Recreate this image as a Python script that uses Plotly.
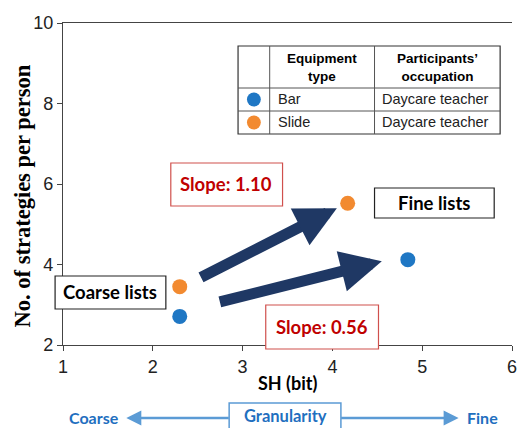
import plotly.graph_objects as go

# ---- data ----
series_names = ["Bar", "Slide"]
occupation = ["Daycare teacher", "Daycare teacher"]
bar_sh = [2.30, 4.84]
bar_strat = [2.71, 4.12]
slide_sh = [2.30, 4.17]
slide_strat = [3.45, 5.52]
slope_labels = ["Slope: 1.10", "Slope: 0.56"]
x_ticks = [1, 2, 3, 4, 5, 6]
y_ticks = [2, 4, 6, 8, 10]

BLUE = "#1F77C4"
ORANGE = "#F28A30"
NAVY = "#1F3864"
RED = "#C00000"
LBLUE = "#5B9BD5"
TBLUE = "#1F6FBF"

W, H = 523, 428
L, R, T, B = 63, 517, 23, 345
TICKFONT = "Liberation Sans Narrow, Liberation Sans, sans-serif"


def px(x):
    return (x - L) / (R - L)


def py(y):
    return (B - y) / (B - T)


fig = go.Figure()
fig.add_trace(go.Scatter(x=bar_sh, y=bar_strat, mode="markers", name=series_names[0],
                         marker=dict(color=BLUE, size=15), cliponaxis=False))
fig.add_trace(go.Scatter(x=slide_sh, y=slide_strat, mode="markers", name=series_names[1],
                         marker=dict(color=ORANGE, size=15), cliponaxis=False))

shapes = []
annotations = []

# thick arrows (in data coordinates)
for (x0, y0, x1, y1) in [(2.52, 3.66, 4.05, 5.40), (2.73, 3.06, 4.55, 4.08)]:
    annotations.append(dict(x=x1, y=y1, ax=x0, ay=y0, xref="x", yref="y", axref="x", ayref="y",
                            showarrow=True, arrowhead=2, arrowsize=0.75, arrowwidth=11,
                            arrowcolor=NAVY, text=""))


def box(x0, y0, x1, y1, color, width=1.2):
    shapes.append(dict(type="rect", xref="paper", yref="paper", x0=px(x0), x1=px(x1),
                       y0=py(y1), y1=py(y0), line=dict(color=color, width=width),
                       fillcolor="white", layer="above"))


def text(x, y, s, size, color="black", family="Lato", bold=False, xanchor="center", angle=0):
    if bold:
        s = "<b>" + s + "</b>"
    annotations.append(dict(x=px(x), y=py(y), xref="paper", yref="paper", text=s,
                            showarrow=False, xanchor=xanchor, yanchor="middle", textangle=angle,
                            font=dict(size=size, color=color, family=family)))


# slope / list boxes
box(172, 163, 285, 206, "#D0504D")
text(228, 184, slope_labels[0], 18.5, RED, bold=True)
box(268, 305, 382, 349, "#D0504D")
text(325, 327, slope_labels[1], 18.5, RED, bold=True)
box(378, 188, 499, 218, "#222222")
text(438, 203, "Fine lists", 18.5, bold=True)
box(55, 276, 167, 309, "#222222")
text(111, 292, "Coarse lists", 18.5, bold=True)

# legend table
tx0, tx1, tx2, tx3 = 240, 272, 378, 505
ty0, ty1, ty2, ty3 = 46, 88, 111, 134
box(tx0, ty0, tx3, ty3, "#333333", 1.2)
for xv in (tx1, tx2):
    shapes.append(dict(type="line", xref="paper", yref="paper", x0=px(xv), x1=px(xv),
                       y0=py(ty3), y1=py(ty0), line=dict(color="#555555", width=1), layer="above"))
for yv in (ty1, ty2):
    shapes.append(dict(type="line", xref="paper", yref="paper", x0=px(tx0), x1=px(tx3),
                       y0=py(yv), y1=py(yv), line=dict(color="#555555", width=1), layer="above"))
for (cy, col) in [((ty1 + ty2) / 2, BLUE), ((ty2 + ty3) / 2, ORANGE)]:
    cx = (tx0 + tx1) / 2
    shapes.append(dict(type="circle", xref="paper", yref="paper", x0=px(cx - 7), x1=px(cx + 7),
                       y0=py(cy + 7), y1=py(cy - 7), fillcolor=col, line=dict(width=0), layer="above"))
text((tx1 + tx2) / 2, (ty0 + ty1) / 2, "Equipment<br>type", 13.5, family="Liberation Sans", bold=True)
text((tx2 + tx3) / 2, (ty0 + ty1) / 2, "Participants’<br>occupation", 13.5, family="Liberation Sans", bold=True)
for i, cy in enumerate([(ty1 + ty2) / 2, (ty2 + ty3) / 2]):
    text(tx1 + 6, cy, series_names[i], 14.5, "#222222", family="Liberation Sans", xanchor="left")
    text(tx2 + 6, cy, occupation[i], 14.5, "#222222", family="Liberation Sans", xanchor="left")

# axis titles
text(290, 383, "SH (bit)", 18, bold=True)
text(22, 196, "No. of strategies per person", 22.5, family="Liberation Serif", bold=True, angle=-90)

# granularity bar at bottom
text(122, 417, "Coarse", 16, TBLUE, bold=True, xanchor="right")
text(469, 417, "Fine", 16, TBLUE, bold=True, xanchor="left")
annotations.append(dict(x=px(127), y=py(418), xref="paper", yref="paper", ax=104, ay=0,
                        showarrow=True, arrowhead=2, arrowsize=1.2, arrowwidth=2.5,
                        arrowcolor=LBLUE, text=""))
annotations.append(dict(x=px(463), y=py(418), xref="paper", yref="paper", ax=-119, ay=0,
                        showarrow=True, arrowhead=2, arrowsize=1.2, arrowwidth=2.5,
                        arrowcolor=LBLUE, text=""))
box(231, 403, 344, 432, LBLUE, 1.5)
text(287.5, 416, "Granularity", 16.5, TBLUE, bold=True)

fig.update_layout(
    width=W, height=H,
    margin=dict(l=L, r=W - R, t=T, b=H - B),
    paper_bgcolor="white", plot_bgcolor="white",
    showlegend=False,
    shapes=shapes, annotations=annotations,
    xaxis=dict(range=[1, 6], tickvals=x_ticks, ticks="outside", ticklen=5, tickcolor="#444",
               showline=True, linecolor="#444", linewidth=1.3, mirror=True,
               showgrid=False, zeroline=False, ticklabeloverflow="allow",
               tickfont=dict(family=TICKFONT, size=18, color="#222")),
    yaxis=dict(range=[2, 10], tickvals=y_ticks, ticks="outside", ticklen=5, tickcolor="#444",
               showline=True, linecolor="#444", linewidth=1.3, showgrid=False, zeroline=False,
               ticklabeloverflow="allow",
               tickfont=dict(family=TICKFONT, size=18, color="#222")),
)

fig.write_html("out.html", config={"displayModeBar": False},
               post_script="document.body.style.margin='0';")
